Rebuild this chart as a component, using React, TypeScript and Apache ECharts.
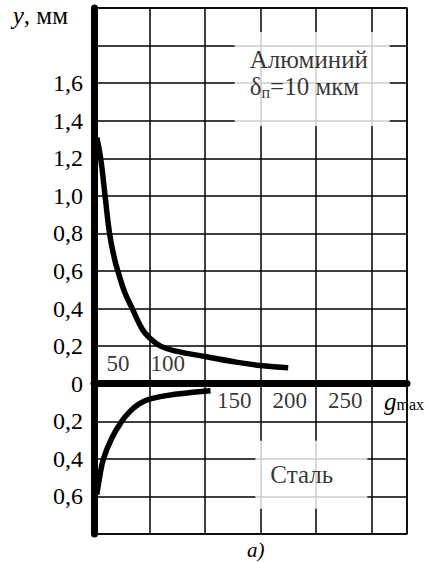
import React, { useEffect, useRef } from 'react';
import * as echarts from 'echarts';

// Deflection curves: aluminium (above the g axis) and steel (below it)
const aluminumX = [2.5, 6, 10, 14, 18.5, 21.5, 27.5, 34.5, 43.5, 50, 60, 75, 100, 125, 150, 175];
const aluminumY = [1.31, 1.2, 1.0, 0.8, 0.665, 0.6, 0.49, 0.4, 0.29, 0.245, 0.2, 0.172, 0.145, 0.118, 0.097, 0.085];
const steelX = [2.5, 5, 8.5, 16, 25, 32, 40, 50, 75, 105];
const steelY = [-0.59, -0.5, -0.4, -0.29, -0.2, -0.15, -0.11, -0.082, -0.055, -0.037];

// Axis ranges and tick labels
const X_MIN = 0;
const X_MAX = 282;
const X_STEP = 50;
const Y_MIN = -0.8;
const Y_MAX = 2.0;
const Y_STEP = 0.2;
const xTickLabels = [50, 100, 150, 200, 250];
const xTicksAboveAxis = [50, 100];
const hiddenYTicks = [2.0, 1.8, -0.8];

// Annotation anchors (data coordinates: left edge, vertical centre of each box)
const aluminumNoteAt = [126.8, 1.622];
const steelNoteAt = [145.4, -0.484];

const FONT = "'Liberation Serif', 'Times New Roman', Times, serif";

export default function App() {
  const ref = useRef<HTMLDivElement>(null);

  useEffect(() => {
    if (!ref.current) return;
    const chart = echarts.init(ref.current, null, { renderer: 'svg' });

    const fmtY = (v: number) => {
      const r = Math.round(v * 10) / 10;
      if (hiddenYTicks.some((h) => Math.abs(h - r) < 1e-6)) return '';
      if (Math.abs(r) < 1e-6) return '0';
      return Math.abs(r).toFixed(1).replace('.', ',');
    };

    const tickLabelData = xTickLabels.map((v) => {
      const above = xTicksAboveAxis.includes(v);
      return {
        value: [v, 0],
        label: {
          offset: above ? [-20, -20] : [-9, 17],
        },
      };
    });

    chart.setOption({
      animation: false,
      backgroundColor: '#fff',
      textStyle: { fontFamily: FONT, color: '#000' },
      title: {
        text: 'а)',
        left: 247,
        top: 539,
        padding: 0,
        textStyle: { fontFamily: FONT, fontStyle: 'italic', fontWeight: 'normal', fontSize: 21, color: '#000' },
      },
      grid: {
        left: 94,
        right: 14,
        top: 8,
        bottom: 28,
        show: true,
        borderColor: '#000',
        borderWidth: 1.5,
        backgroundColor: 'transparent',
      },
      xAxis: {
        type: 'value',
        min: X_MIN,
        max: X_MAX,
        interval: X_STEP,
        axisLine: { show: true, onZero: true, lineStyle: { color: '#000', width: 7 } },
        axisTick: { show: false },
        axisLabel: { show: false },
        splitLine: { show: true, lineStyle: { color: '#000', width: 1.5 } },
        name: '{g|g}{m|max}',
        nameLocation: 'end',
        nameGap: -23,
        nameTextStyle: {
          align: 'left',
          verticalAlign: 'middle',
          padding: [36, 0, 0, 0],
          rich: {
            g: { fontFamily: FONT, fontStyle: 'italic', fontSize: 25, color: '#000' },
            m: { fontFamily: FONT, fontSize: 16, color: '#000', padding: [6, 0, 0, 0] },
          },
        },
      },
      yAxis: {
        type: 'value',
        min: Y_MIN,
        max: Y_MAX,
        interval: Y_STEP,
        axisLine: { show: true, onZero: true, lineStyle: { color: '#000', width: 7 } },
        axisTick: { show: false },
        axisLabel: {
          formatter: fmtY,
          fontFamily: FONT,
          fontSize: 24,
          color: '#000',
          margin: 11,
          padding: [10, 0, 0, 0],
        },
        splitLine: { show: true, lineStyle: { color: '#000', width: 1.5 } },
        name: '{i|y}{n|, мм}',
        nameLocation: 'end',
        nameGap: -7,
        nameTextStyle: {
          align: 'right',
          verticalAlign: 'middle',
          padding: [0, 26, 0, 0],
          rich: {
            i: { fontFamily: FONT, fontStyle: 'italic', fontSize: 25, color: '#000' },
            n: { fontFamily: FONT, fontSize: 25, color: '#000' },
          },
        },
      },
      series: [
        {
          name: 'Алюминий',
          type: 'line',
          data: aluminumX.map((x, i) => [x, aluminumY[i]]),
          smooth: 0.45,
          showSymbol: false,
          silent: true,
          lineStyle: { color: '#000', width: 5.5 },
          z: 3,
        },
        {
          name: 'Сталь',
          type: 'line',
          data: steelX.map((x, i) => [x, steelY[i]]),
          smooth: 0.45,
          showSymbol: false,
          silent: true,
          lineStyle: { color: '#000', width: 5.5 },
          z: 3,
        },
        {
          type: 'scatter',
          silent: true,
          symbolSize: 0,
          data: tickLabelData,
          label: {
            show: true,
            position: 'inside',
            align: 'right',
            verticalAlign: 'middle',
            fontFamily: FONT,
            fontSize: 23,
            color: '#000',
            formatter: (p: any) => String(p.value[0]),
          },
          z: 4,
        },
        {
          type: 'scatter',
          silent: true,
          symbolSize: 0,
          data: [{ value: aluminumNoteAt }],
          label: {
            show: true,
            position: 'inside',
            formatter: 'Алюминий\n{d|δ}{s|п}{d|=10 мкм}',
            backgroundColor: '#fff',
            align: 'left',
            verticalAlign: 'middle',
            width: 140,
            lineHeight: 27,
            padding: [14, 0, 26, 15],
            fontFamily: FONT,
            fontSize: 25,
            color: '#000',
            rich: {
              d: { fontFamily: FONT, fontSize: 25, color: '#000', lineHeight: 27 },
              s: { fontFamily: FONT, fontSize: 16, color: '#000', padding: [11, 0, 0, 0] },
            },
          },
          z: 5,
        },
        {
          type: 'scatter',
          silent: true,
          symbolSize: 0,
          data: [{ value: steelNoteAt }],
          label: {
            show: true,
            position: 'inside',
            formatter: 'Сталь',
            backgroundColor: '#fff',
            align: 'left',
            verticalAlign: 'middle',
            width: 62,
            lineHeight: 28,
            padding: [10, 35, 30, 15],
            fontFamily: FONT,
            fontSize: 25,
            color: '#000',
          },
          z: 5,
        },
      ],
    });

    return () => chart.dispose();
  }, []);

  return (
    <div
      ref={ref}
      style={{ position: 'absolute', left: 0, top: 0, width: 427, height: 562, background: '#fff' }}
    />
  );
}
